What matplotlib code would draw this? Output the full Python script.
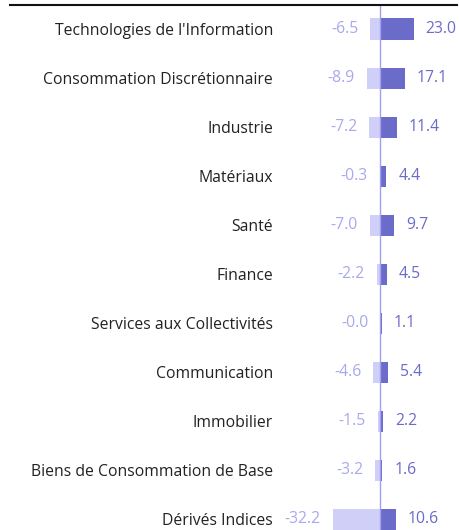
import matplotlib.pyplot as plt
from matplotlib.lines import Line2D

plt.rcParams['font.family'] = ['Open Sans', 'DejaVu Sans']

secteurs = ["Technologies de l'Information", "Consommation Discrétionnaire", "Industrie",
            "Matériaux", "Santé", "Finance", "Services aux Collectivités", "Communication",
            "Immobilier", "Biens de Consommation de Base", "Dérivés Indices"]
negatif = [-6.5, -8.9, -7.2, -0.3, -7.0, -2.2, -0.0, -4.6, -1.5, -3.2, -32.2]
positif = [23.0, 17.1, 11.4, 4.4, 9.7, 4.5, 1.1, 5.4, 2.2, 1.6, 10.6]

col_neg = '#cfcff7'
col_pos = '#6b6bc9'
txt_neg = '#a8a8ee'
fs = 11.3

fig = plt.figure(figsize=(4.6, 5.3), dpi=100)
ax = fig.add_axes([280/460, 0, 180/460, 525/530])

pos = list(range(len(secteurs)))
ax.barh(pos, negatif, height=0.43, color=col_neg)
ax.barh(pos, positif, height=0.43, color=col_pos)
ax.axvline(0, color='#a0a0f2', lw=1, zorder=3)

for i in pos:
    ax.annotate('{:.1f}'.format(negatif[i]), (negatif[i], i), xytext=(-8.5, 0),
                textcoords='offset points', ha='right', va='center', fontsize=fs, color=txt_neg)
    ax.annotate('{:.1f}'.format(positif[i]), (positif[i], i), xytext=(8.5, 0),
                textcoords='offset points', ha='left', va='center', fontsize=fs, color=col_pos)

ax.set_yticks(pos)
ax.set_yticklabels(secteurs, fontsize=fs, color='#222222')
ax.tick_params(axis='y', length=0, pad=5)
ax.set_xticks([])
ax.set_xlim(-68, 54.4)
ax.set_ylim(10.22, -0.49)
for s in ax.spines.values():
    s.set_visible(False)

fig.add_artist(Line2D([10/460, 457/460], [1 - 5/530, 1 - 5/530], color='#111111', lw=1.5))

fig.savefig('out.png', dpi=100)
